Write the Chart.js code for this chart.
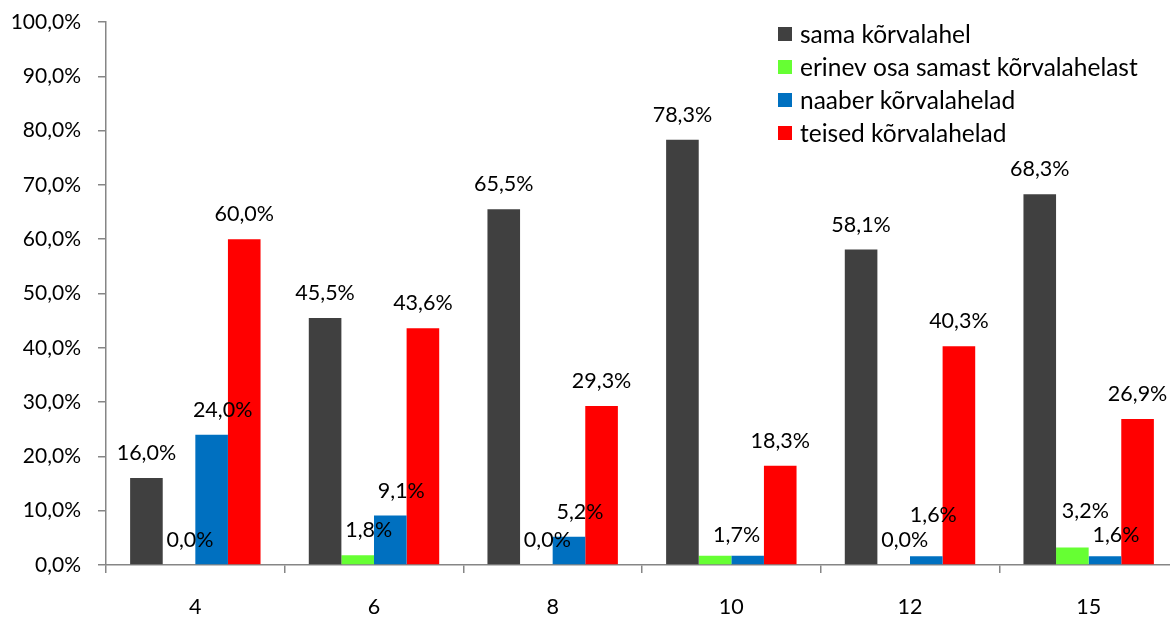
<!DOCTYPE html>
<html>
<head>
<meta charset="utf-8">
<script src="https://cdn.jsdelivr.net/npm/chart.js@4/dist/chart.umd.min.js"></script>
<style>
    html, body { margin: 0; padding: 0; background: #fff; overflow: hidden; }
    #wrap { width: 1180px; height: 617px; position: relative; }
</style>
</head>
<body>
<div id="wrap"><canvas id="chart"></canvas></div>
<script>
// Categories on the x axis
const categories = ['4', '6', '8', '10', '12', '15'];

// Series names
const seriesNames = [
    'sama kõrvalahel',
    'erinev osa samast kõrvalahelast',
    'naaber kõrvalahelad',
    'teised kõrvalahelad'
];

// Series values (%)
const samaValues   = [16.0, 45.5, 65.5, 78.3, 58.1, 68.3];
const erinevValues = [0.0, 1.8, 0.0, 1.7, 0.0, 3.2];
const naaberValues = [24.0, 9.1, 5.2, 1.7, 1.6, 1.6];
const teisedValues = [60.0, 43.6, 29.3, 18.3, 40.3, 26.9];

const seriesColors = ['#404040', '#66FF33', '#0070C0', '#FF0000'];
const FONT = 'Lato, Carlito, Calibri, sans-serif';
const AXIS_COLOR = '#868686';

function pct(v) {
    return v.toFixed(1).replace('.', ',') + '%';
}

// Value labels above the bars; the two small series sit a bit to the right
const labelShift = [0, 11, 11, 0];
// Individual nudges where labels crowd each other: 'dataset:index' -> [dx, dy]
const labelNudge = {
    '2:3': [-22, 4],
    '2:4': [-4, -16],
    '1:5': [2, -12],
    '2:5': [0, 4]
};
const labelSkip = { '1:3': true };

const valueLabels = {
    id: 'valueLabels',
    afterDatasetsDraw(chart) {
        const ctx = chart.ctx;
        ctx.save();
        ctx.font = '21.5px ' + FONT;
        ctx.fillStyle = '#000';
        ctx.textAlign = 'center';
        ctx.textBaseline = 'alphabetic';
        chart.data.datasets.forEach((ds, di) => {
            const meta = chart.getDatasetMeta(di);
            meta.data.forEach((bar, i) => {
                const key = di + ':' + i;
                if (labelSkip[key]) return;
                const n = labelNudge[key] || [0, 0];
                ctx.fillText(pct(ds.data[i]), bar.x + labelShift[di] + n[0], bar.y - 18 + n[1]);
            });
        });
        ctx.restore();
    }
};

// Legend box in the upper right corner
const cornerLegend = {
    id: 'cornerLegend',
    afterDraw(chart) {
        const ctx = chart.ctx;
        ctx.save();
        ctx.font = '24.5px ' + FONT;
        ctx.textBaseline = 'middle';
        ctx.textAlign = 'left';
        chart.data.datasets.forEach((ds, i) => {
            const y = 34 + i * 33;
            ctx.fillStyle = ds.backgroundColor;
            ctx.fillRect(778, y - 7, 14, 14);
            ctx.fillStyle = '#000';
            ctx.fillText(ds.label, 800, y + 1);
        });
        ctx.restore();
    }
};

const allValues = [samaValues, erinevValues, naaberValues, teisedValues];

new Chart(document.getElementById('chart'), {
    type: 'bar',
    data: {
        labels: categories,
        datasets: allValues.map((vals, i) => ({
            label: seriesNames[i],
            data: vals,
            backgroundColor: seriesColors[i],
            borderWidth: 0,
            categoryPercentage: 0.73,
            barPercentage: 1.0
        }))
    },
    options: {
        responsive: true,
        maintainAspectRatio: false,
        animation: false,
        layout: { padding: { top: 22, right: 2, left: 0, bottom: 0 } },
        plugins: {
            legend: { display: false },
            tooltip: { enabled: false }
        },
        scales: {
            x: {
                grid: {
                    offset: true,
                    drawOnChartArea: false,
                    tickLength: 8,
                    color: AXIS_COLOR,
                    lineWidth: 1.5
                },
                border: { color: AXIS_COLOR, width: 1.5 },
                ticks: {
                    color: '#000',
                    font: { family: FONT, size: 21.5 },
                    padding: 21
                },
                afterFit(scale) {
                    scale.height = 52;
                    scale.paddingLeft = 0;
                    scale.paddingRight = 0;
                }
            },
            y: {
                min: 0,
                max: 100,
                grid: {
                    drawOnChartArea: false,
                    tickLength: 8,
                    color: AXIS_COLOR,
                    lineWidth: 1.5
                },
                border: { color: AXIS_COLOR, width: 1.5 },
                ticks: {
                    stepSize: 10,
                    color: '#000',
                    font: { family: FONT, size: 21 },
                    padding: 17,
                    callback: v => pct(v)
                },
                afterFit(scale) {
                    scale.width = 106;
                    scale.paddingTop = 0;
                    scale.paddingBottom = 0;
                }
            }
        }
    },
    plugins: [valueLabels, cornerLegend]
});
</script>
</body>
</html>
